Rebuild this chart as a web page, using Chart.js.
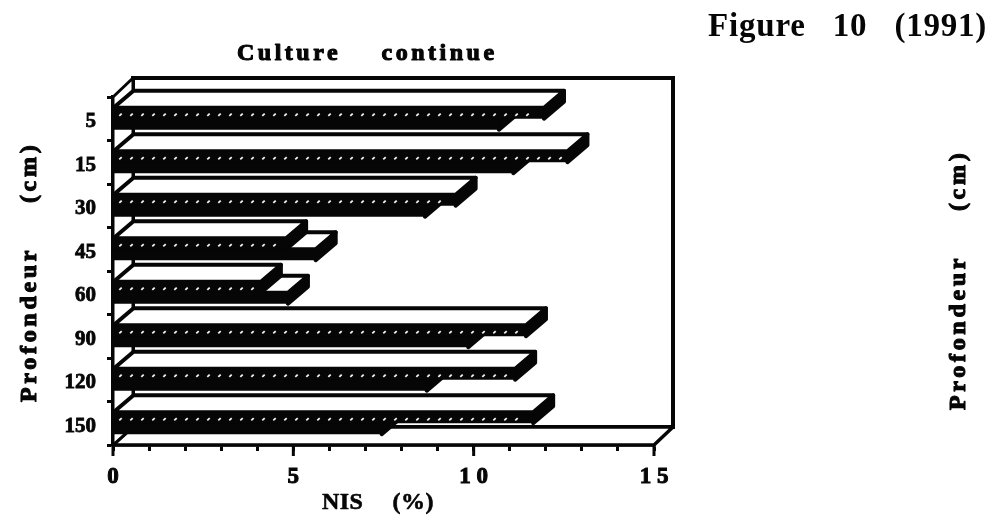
<!DOCTYPE html>
<html>
<head>
<meta charset="utf-8">
<style>html,body{margin:0;padding:0;background:#fff}canvas{display:block;filter:blur(0.4px)}</style>
<script src="https://cdn.jsdelivr.net/npm/chart.js@4"></script>
</head>
<body>
<canvas id="c" width="993" height="519"></canvas>
<script>
const depthLabels = ['5','15','30','45','60','90','120','150'];
const seriesUpper = [11.95,12.6,9.5,4.8,4.1,11.45,11.15,11.65];
const seriesLower = [10.7,11.1,8.65,5.62,4.85,9.85,8.7,7.45];
const majorTicks = {0:'0',5:'5',10:'1 0',15:'1 5'};
const titleText = 'Culture continue';
const figureText = 'Figure 10 (1991)';
const xTitleText = 'NIS (%)';
const yTitleText = 'Profondeur (cm)';

const INK = '#060606';
const DX = 20, DY = 17;
const SERIF = '"Liberation Serif", serif';

function poly(ctx, pts, fill, stroke, lw, join) {
  ctx.beginPath();
  pts.forEach((p, i) => i ? ctx.lineTo(p[0], p[1]) : ctx.moveTo(p[0], p[1]));
  ctx.closePath();
  if (fill) { ctx.fillStyle = fill; ctx.fill(); }
  if (stroke) { ctx.strokeStyle = stroke; ctx.lineWidth = lw; ctx.lineJoin = join || 'miter'; ctx.stroke(); }
}

const box3d = {
  id: 'box3d',
  beforeDatasetsDraw(chart) {
    const { ctx, chartArea: a } = chart;
    ctx.save();
    // back wall, floor, left wall
    poly(ctx, [[a.left+DX,a.top-19],[a.right+19,a.top-19],[a.right+19,a.bottom-18],[a.left+DX,a.bottom-18]], '#fff', INK, 4);
    poly(ctx, [[a.left,a.bottom],[a.right,a.bottom],[a.right+19,a.bottom-18],[a.left+DX,a.bottom-18]], '#fff', INK, 3.5, 'round');
    poly(ctx, [[a.left,a.top],[a.left+DX,a.top-19],[a.left+DX,a.bottom-18],[a.left,a.bottom]], '#fff', INK, 3, 'round');
    // depth faces of the bars, lower series first
    [1, 0].forEach(ds => {
      chart.getDatasetMeta(ds).data.forEach(el => {
        const yt = el.y - el.height / 2, yb = el.y + el.height / 2, x0 = el.base, x1 = el.x;
        poly(ctx, [[x1,yt],[x1+DX,yt-DY],[x1+DX,yb-DY],[x1,yb]], INK, INK, 4, 'round');
        poly(ctx, [[x0,yt],[x0+DX,yt-DY],[x1+DX,yt-DY],[x1,yt]], '#fff', INK, 4, 'round');
      });
    });
    ctx.restore();
  },
  afterDatasetsDraw(chart) {
    const { ctx } = chart;
    ctx.save();
    // speckle on the upper series' front face
    ctx.strokeStyle = '#f4f4f4';
    ctx.lineWidth = 1.7;
    chart.getDatasetMeta(0).data.forEach(el => {
      const yd = el.y - el.height / 2 + 7;
      for (let x = el.base + 7; x < el.x - 6; x += 11) {
        ctx.beginPath();
        ctx.moveTo(x - 1.2, yd + 1.2);
        ctx.lineTo(x + 1.2, yd - 1.2);
        ctx.stroke();
      }
    });
    ctx.restore();
  },
  afterDraw(chart) {
    const { ctx, scales: { x }, chartArea: a } = chart;
    ctx.save();
    // longer marks at the labelled ticks
    ctx.strokeStyle = INK;
    ctx.lineWidth = 3;
    Object.keys(majorTicks).forEach(v => {
      const px = x.getPixelForValue(+v);
      ctx.beginPath(); ctx.moveTo(px, a.bottom); ctx.lineTo(px, a.bottom + 11); ctx.stroke();
    });
    // texts
    ctx.fillStyle = INK;
    ctx.strokeStyle = INK;
    ctx.textBaseline = 'alphabetic';
    ctx.textAlign = 'left';
    const put = (text, px, py, font, ls, ws, rot, fat) => {
      ctx.save();
      ctx.translate(px, py);
      if (rot) ctx.rotate(-Math.PI / 2);
      ctx.font = font;
      ctx.letterSpacing = ls + 'px';
      ctx.wordSpacing = ws + 'px';
      ctx.lineJoin = 'round';
      ctx.lineWidth = fat;
      ctx.fillText(text, 0, 0);
      if (fat) ctx.strokeText(text, 0, 0);
      ctx.restore();
    };
    const big = 'bold 24px ' + SERIF;
    put(titleText, 237, 60, big, 3.5, 31, false, 1.1);
    put(figureText, 708, 36, 'bold 33px ' + SERIF, 0.8, 18, false, 0);
    put(xTitleText, 322, 509, big, 0.4, 23, false, 0.6);
    put(yTitleText, 36, 402, big, 3.7, 34, true, 1.1);
    put(yTitleText, 965, 410, big, 3.7, 34, true, 1.1);
    ctx.restore();
  }
};

new Chart(document.getElementById('c'), {
  type: 'bar',
  data: {
    labels: depthLabels,
    datasets: [
      { label: 'A', data: seriesUpper, backgroundColor: INK, borderWidth: 0, order: 0 },
      { label: 'B', data: seriesLower, backgroundColor: INK, borderWidth: 0, order: 1 }
    ]
  },
  options: {
    indexAxis: 'y',
    responsive: false,
    animation: false,
    devicePixelRatio: 1,
    layout: { padding: { left: 0, top: 97, right: 339, bottom: 0 } },
    categoryPercentage: 0.506,
    barPercentage: 1,
    plugins: { legend: { display: false }, title: { display: false }, tooltip: { enabled: false } },
    scales: {
      x: {
        type: 'linear', min: 0, max: 15,
        afterFit(s) { s.height = 74; },
        grid: { drawOnChartArea: false, tickLength: 6, tickWidth: 3, tickColor: INK },
        border: { display: true, color: INK, width: 3.5 },
        ticks: {
          stepSize: 1, autoSkip: false, maxRotation: 0, padding: 12, color: INK,
          textStrokeColor: INK, textStrokeWidth: 1,
          font: { family: SERIF, size: 23, weight: 'bold' },
          callback: v => majorTicks[v] !== undefined ? majorTicks[v] : ''
        }
      },
      y: {
        type: 'category',
        afterFit(s) { s.width = 113; },
        grid: { drawOnChartArea: false, offset: true, tickLength: 6, tickWidth: 3, tickColor: INK },
        border: { display: true, color: INK, width: 5 },
        ticks: {
          padding: 11, color: INK, autoSkip: false, labelOffset: 3,
          textStrokeColor: INK, textStrokeWidth: 0.8,
          font: { family: SERIF, size: 21, weight: 'bold' }
        }
      }
    }
  },
  plugins: [box3d]
});
</script>
</body>
</html>
